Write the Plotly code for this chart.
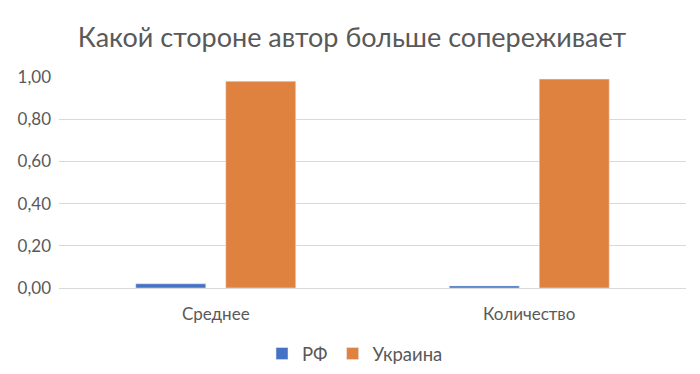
import plotly.graph_objects as go

categories = ["Среднее", "Количество"]
rf_values = [0.02, 0.01]
ua_values = [0.98, 0.99]
y_ticks = [0, 0.2, 0.4, 0.6, 0.8, 1.0]
title_text = "Какой стороне автор больше сопереживает"

font_family = "Lato, 'Open Sans', sans-serif"
text_color = "#595959"

W, H = 692, 366  # page body has an 8px default margin

fig = go.Figure()
fig.add_trace(go.Bar(x=categories, y=rf_values, name="РФ", marker_color="#4472C4"))
fig.add_trace(go.Bar(x=categories, y=ua_values, name="Украина", marker_color="#E0823F"))

fig.update_layout(
    width=W, height=H,
    margin=dict(l=51, r=13.5, t=69, b=85.5, autoexpand=False),
    paper_bgcolor="white", plot_bgcolor="white",
    barmode="group", bargap=0.426, bargroupgap=0.222,
    separators=", ",
    font=dict(family=font_family, color=text_color, size=17),
    title=dict(text=title_text, x=344 / W, xanchor="center", xref="container",
               y=1 - 30 / H, yref="container", yanchor="middle",
               font=dict(size=27, color=text_color, family=font_family)),
    legend=dict(orientation="h", x=347 / W, xanchor="center", xref="container",
                y=1 - 346 / H, yref="container", yanchor="middle",
                font=dict(size=18.5, color=text_color), traceorder="normal",
                itemwidth=30),
    showlegend=True,
)
fig.update_yaxes(range=[0, 1.0], tickvals=y_ticks, tickformat=".2f",
                 gridcolor="#D9D9D9", gridwidth=1, zeroline=True,
                 zerolinecolor="#D9D9D9", zerolinewidth=1,
                 ticks="", ticklabelstandoff=7, showline=False,
                 tickfont=dict(size=17, color=text_color))
fig.update_xaxes(showline=False, ticks="", ticklabelstandoff=14,
                 tickfont=dict(size=17, color=text_color))

fig.write_html("out.html")
